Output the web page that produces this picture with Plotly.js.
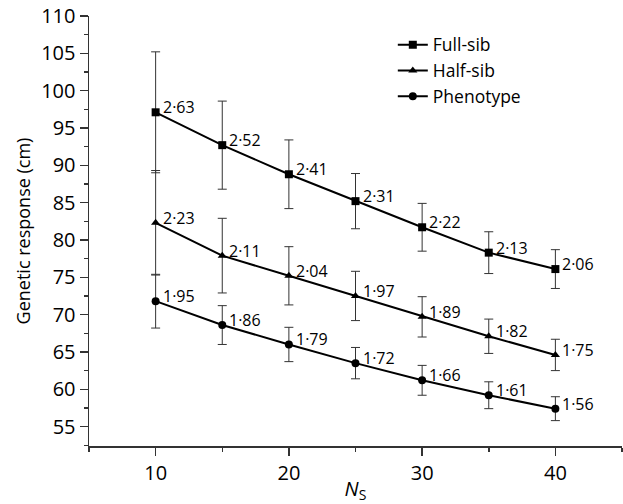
<!DOCTYPE html>
<html>
<head>
<meta charset="utf-8">
<script src="https://cdn.plot.ly/plotly-3.0.1.min.js"></script>
<style>html,body{margin:0;padding:0;background:#fff;}#chart{width:623px;height:504px;}</style>
</head>
<body>
<div id="chart"></div>
<script>
var ns = [10, 15, 20, 25, 30, 35, 40];

var fullSib = [97.1, 92.7, 88.8, 85.2, 81.7, 78.3, 76.1];
var fullSibErr = [8.1, 5.9, 4.6, 3.7, 3.2, 2.8, 2.6];
var fullSibLabels = ["2·63", "2·52", "2·41", "2·31", "2·22", "2·13", "2·06"];

var halfSib = [82.3, 77.9, 75.2, 72.5, 69.7, 67.1, 64.6];
var halfSibErr = [7.0, 5.0, 3.9, 3.3, 2.7, 2.3, 2.1];
var halfSibLabels = ["2·23", "2·11", "2·04", "1·97", "1·89", "1·82", "1·75"];

var phenotype = [71.8, 68.6, 66.0, 63.5, 61.2, 59.2, 57.4];
var phenotypeErr = [3.6, 2.6, 2.3, 2.1, 2.0, 1.8, 1.6];
var phenotypeLabels = ["1·95", "1·86", "1·79", "1·72", "1·66", "1·61", "1·56"];

var seriesNames = ["Full-sib", "Half-sib", "Phenotype"];
var FONT = "Open Sans, sans-serif";

function mkTrace(name, y, err, symbol, msize) {
  return {
    x: ns, y: y, name: name, type: "scatter", mode: "lines+markers",
    line: {color: "#000", width: 2},
    marker: {symbol: symbol, size: msize, color: "#000"},
    error_y: {type: "data", array: err, visible: true, color: "#333", thickness: 1, width: 4.5},
    cliponaxis: false
  };
}

var traces = [
  mkTrace(seriesNames[0], fullSib, fullSibErr, "square", 8),
  mkTrace(seriesNames[1], halfSib, halfSibErr, "triangle-up", 8),
  mkTrace(seriesNames[2], phenotype, phenotypeErr, "circle", 8)
];

var annotations = [];
[[fullSib, fullSibLabels], [halfSib, halfSibLabels], [phenotype, phenotypeLabels]].forEach(function (s) {
  for (var i = 0; i < ns.length; i++) {
    annotations.push({
      x: ns[i], y: s[0][i], xref: "x", yref: "y", text: s[1][i], showarrow: false,
      xanchor: "left", yanchor: "middle", xshift: 5, yshift: 5,
      font: {family: FONT, size: 16, color: "#000"}
    });
  }
});

var layout = {
  width: 623, height: 504,
  margin: {l: 89, r: 1, t: 16, b: 58},
  paper_bgcolor: "#fff", plot_bgcolor: "#fff",
  font: {family: FONT, color: "#000"},
  showlegend: true,
  legend: {
    x: 0.570, y: 0.975, xanchor: "left", yanchor: "top",
    font: {family: FONT, size: 17.5, color: "#000"},
    bgcolor: "rgba(0,0,0,0)"
  },
  xaxis: {
    range: [5, 45], showgrid: false, zeroline: false,
    showline: true, linecolor: "#333", linewidth: 1.5,
    ticks: "outside", ticklen: 8, tickwidth: 1.5, tickcolor: "#333",
    tick0: 10, dtick: 10,
    minor: {ticks: "outside", ticklen: 4, tickwidth: 1.5, tickcolor: "#333", dtick: 5, tick0: 5, showgrid: false},
    tickfont: {family: FONT, size: 20, color: "#000"},
    title: {text: "<i>N</i><sub>S</sub>", font: {family: FONT, size: 20, color: "#000"}, standoff: 8}
  },
  yaxis: {
    range: [52.4, 110], showgrid: false, zeroline: false,
    showline: true, linecolor: "#333", linewidth: 1.5,
    ticks: "outside", ticklen: 8, tickwidth: 1.5, tickcolor: "#333",
    tick0: 55, dtick: 5,
    minor: {ticks: "outside", ticklen: 4, tickwidth: 1.5, tickcolor: "#333", dtick: 2.5, showgrid: false},
    tickfont: {family: FONT, size: 20, color: "#000"},
    title: {text: "Genetic response (cm)", font: {family: FONT, size: 18, color: "#000"}, standoff: 6}
  },
  annotations: annotations
};

Plotly.newPlot("chart", traces, layout, {displayModeBar: false, staticPlot: true});
</script>
</body>
</html>
